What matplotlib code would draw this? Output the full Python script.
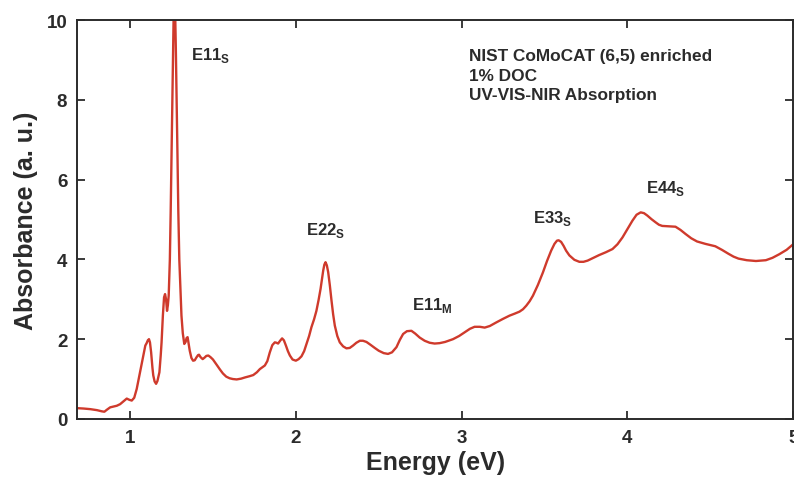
import matplotlib
matplotlib.use("Agg")
import matplotlib.pyplot as plt

plt.rcParams['font.family'] = ['Liberation Sans', 'DejaVu Sans']
plt.rcParams['font.weight'] = 'bold'
plt.rcParams['mathtext.fontset'] = 'custom'
plt.rcParams['mathtext.rm'] = 'Liberation Sans:bold'
plt.rcParams['mathtext.bf'] = 'Liberation Sans:bold'

# absorbance spectrum
energy = [0.68, 0.72, 0.76, 0.80, 0.83, 0.845, 0.86, 0.88, 0.90, 0.92,
          0.94, 0.96, 0.98, 0.995, 1.01, 1.025, 1.04, 1.06, 1.08, 1.092,
          1.10, 1.107, 1.114, 1.12, 1.127, 1.135, 1.14, 1.148, 1.157, 1.165,
          1.177, 1.185, 1.19, 1.198, 1.205, 1.211, 1.217, 1.223, 1.228, 1.233,
          1.237, 1.24, 1.245, 1.25, 1.255, 1.259, 1.263, 1.267, 1.271, 1.276,
          1.281, 1.286, 1.291, 1.297, 1.304, 1.31, 1.318, 1.327, 1.335, 1.341,
          1.347, 1.353, 1.36, 1.37, 1.38, 1.39, 1.40, 1.41, 1.416, 1.425,
          1.438, 1.45, 1.46, 1.472, 1.485, 1.50, 1.512, 1.527, 1.542, 1.56,
          1.58, 1.60, 1.62, 1.643, 1.67, 1.693, 1.72, 1.743, 1.765, 1.783,
          1.80, 1.813, 1.828, 1.843, 1.858, 1.873, 1.883, 1.893, 1.905, 1.917,
          1.928, 1.94, 1.952, 1.964, 1.98, 2.0, 2.017, 2.034, 2.05, 2.064,
          2.08, 2.094, 2.11, 2.124, 2.137, 2.149, 2.158, 2.165, 2.172, 2.179,
          2.187, 2.195, 2.205, 2.215, 2.225, 2.235, 2.25, 2.265, 2.285, 2.305,
          2.325, 2.345, 2.365, 2.386, 2.405, 2.426, 2.45, 2.476, 2.50, 2.53,
          2.556, 2.58, 2.607, 2.627, 2.647, 2.67, 2.697, 2.72, 2.747, 2.777,
          2.807, 2.837, 2.867, 2.90, 2.948, 2.985, 3.018, 3.05, 3.078, 3.11,
          3.139, 3.17, 3.209, 3.25, 3.289, 3.32, 3.349, 3.37, 3.39, 3.41,
          3.43, 3.46, 3.49, 3.515, 3.54, 3.56, 3.575, 3.585, 3.60, 3.615,
          3.63, 3.65, 3.68, 3.71, 3.735, 3.76, 3.795, 3.83, 3.87, 3.91,
          3.94, 3.97, 4.00, 4.03, 4.055, 4.08, 4.10, 4.12, 4.145, 4.17,
          4.19, 4.21, 4.25, 4.29, 4.32, 4.35, 4.385, 4.42, 4.47, 4.53,
          4.57, 4.61, 4.64, 4.67, 4.72, 4.775, 4.835, 4.875, 4.916, 4.96,
          5.0]
absorb = [0.27, 0.26, 0.245, 0.22, 0.19, 0.18, 0.23, 0.29, 0.31, 0.33,
          0.37, 0.44, 0.51, 0.48, 0.46, 0.53, 0.75, 1.17, 1.59, 1.84,
          1.90, 1.97, 2.0, 1.92, 1.67, 1.28, 1.09, 0.94, 0.88, 0.95,
          1.17, 1.6, 1.92, 2.6, 3.05, 3.13, 3.0, 2.71, 2.85, 3.09,
          3.6, 4.0, 5.2, 6.6, 8.0, 9.3, 10.4, 10.8, 10.4, 9.3,
          8.0, 6.6, 5.2, 4.0, 3.2, 2.59, 2.15, 1.88, 1.93, 2.03,
          2.05, 1.90, 1.71, 1.53, 1.46, 1.47, 1.54, 1.60, 1.61, 1.55,
          1.50, 1.54, 1.58, 1.59, 1.55, 1.49, 1.42, 1.33, 1.24, 1.14,
          1.06, 1.02, 1.00, 0.99, 1.01, 1.04, 1.07, 1.10, 1.17, 1.25,
          1.30, 1.34, 1.45, 1.67, 1.85, 1.92, 1.91, 1.89, 1.96, 2.02,
          1.97, 1.84, 1.70, 1.59, 1.49, 1.46, 1.50, 1.57, 1.70, 1.88,
          2.08, 2.30, 2.50, 2.71, 2.98, 3.26, 3.52, 3.72, 3.87, 3.93,
          3.85, 3.68, 3.35, 2.97, 2.62, 2.34, 2.08, 1.92, 1.82, 1.77,
          1.78, 1.84, 1.91, 1.96, 1.96, 1.93, 1.86, 1.78, 1.71, 1.65,
          1.63, 1.67, 1.80, 1.98, 2.13, 2.20, 2.21, 2.14, 2.04, 1.96,
          1.91, 1.89, 1.90, 1.93, 2.00, 2.08, 2.17, 2.26, 2.31, 2.31,
          2.29, 2.33, 2.42, 2.51, 2.59, 2.64, 2.69, 2.75, 2.84, 2.95,
          3.09, 3.36, 3.67, 3.96, 4.22, 4.39, 4.47, 4.48, 4.44, 4.34,
          4.22, 4.10, 3.99, 3.94, 3.94, 3.97, 4.04, 4.11, 4.18, 4.26,
          4.38, 4.55, 4.76, 4.97, 5.12, 5.18, 5.16, 5.10, 5.01, 4.93,
          4.87, 4.84, 4.83, 4.82, 4.74, 4.64, 4.53, 4.45, 4.39, 4.33,
          4.24, 4.14, 4.07, 4.02, 3.98, 3.96, 3.98, 4.04, 4.13, 4.24,
          4.38]

peak_labels = ["E11$_\\mathbf{S}$", "E22$_\\mathbf{S}$", "E11$_\\mathbf{M}$",
               "E33$_\\mathbf{S}$", "E44$_\\mathbf{S}$"]
peak_x = [1.37, 2.06, 2.70, 3.43, 4.11]
peak_y = [9.15, 4.76, 2.88, 5.04, 5.81]

info_text = "NIST CoMoCAT (6,5) enriched\n1% DOC\nUV-VIS-NIR Absorption"

ink = "#2b2b2b"

fig = plt.figure(figsize=(7.94, 4.81), dpi=100)
ax = fig.add_axes([0.097, 0.127, 0.902, 0.829])

ax.plot(energy, absorb, color="#cf3a2c", lw=1.7)

for lab, x, y in zip(peak_labels, peak_x, peak_y):
    ax.text(x, y, lab, fontsize=12, color=ink, fontweight='bold', va='center')

ax.text(0.548, 0.93, info_text, transform=ax.transAxes, fontsize=12.4,
        color=ink, fontweight='bold', va='top', linespacing=1.38)

ax.set_xlim(0.68, 5.0)
ax.set_ylim(0, 10)
ax.set_xticks([1, 2, 3, 4, 5])
ax.set_yticks([0, 2, 4, 6, 8, 10])
ax.tick_params(direction='in', top=True, right=True, length=6, width=1.3,
               labelsize=13.5, colors=ink, pad=7)
for lbl in ax.get_xticklabels() + ax.get_yticklabels():
    lbl.set_fontweight('bold')
for sp in ax.spines.values():
    sp.set_linewidth(1.4)
    sp.set_color(ink)

ax.set_xlabel("Energy (eV)", fontsize=18, fontweight='bold', color=ink, labelpad=3)
ax.set_ylabel("Absorbance (a. u.)", fontsize=18, fontweight='bold', color=ink, labelpad=6)

fig.savefig("out.png", dpi=100)
